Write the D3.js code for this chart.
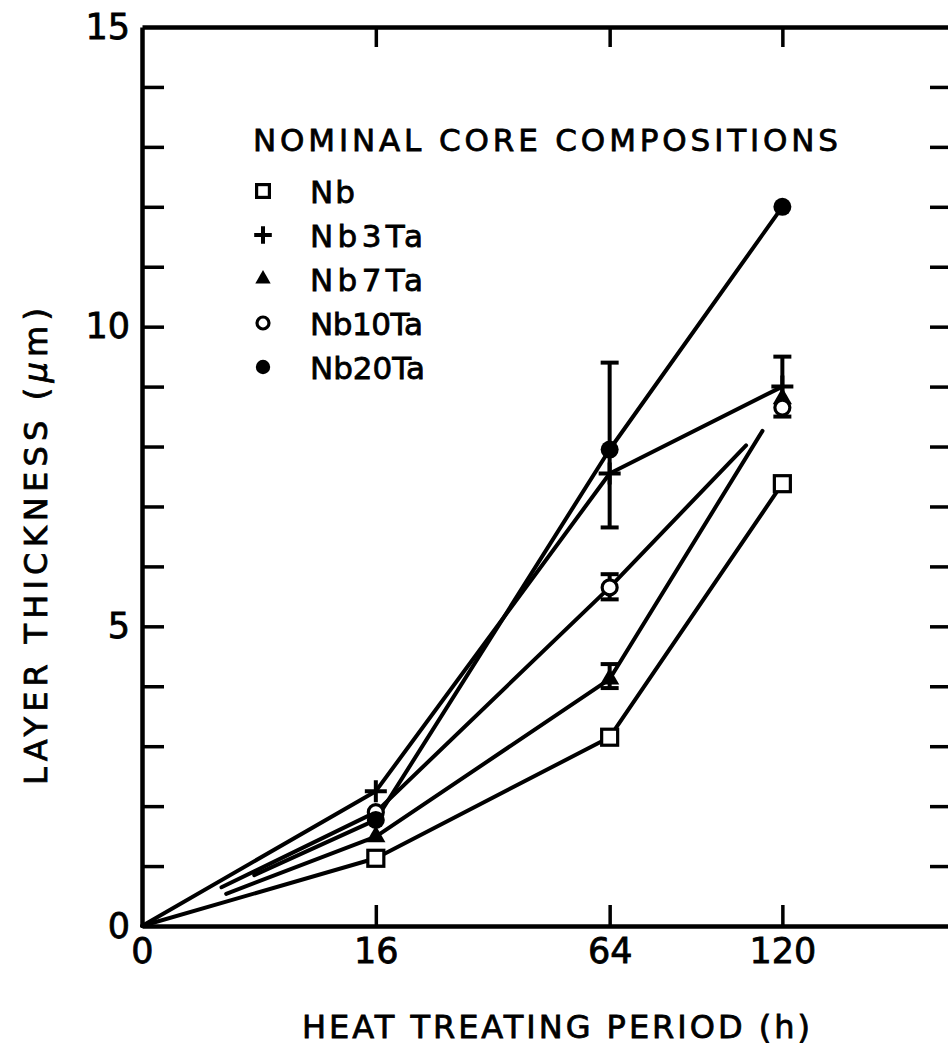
<!DOCTYPE html>
<html>
<head>
<meta charset="utf-8">
<script src="https://cdn.jsdelivr.net/npm/d3@7"></script>
<style>
  body { margin: 0; background: #fff; }
  svg { display: block; font-family: "DejaVu Sans", sans-serif; }
  svg text { stroke: #000; stroke-width: 0.8px; }
</style>
</head>
<body>
<div id="root"></div>
<script>
// heat treating periods (h)
const periods = [0, 16, 64, 120];
const seriesNames = ["Nb", "Nb3Ta", "Nb7Ta", "Nb10Ta", "Nb20Ta"];
const seriesSymbols = ["square", "plus", "triangle", "circle", "dot"];

// layer thickness (um) per series, at each period
const nbValues     = [0, 1.13, 3.15, 7.38];
const nb3TaValues  = [0, 2.25, 7.55, 9.0];
const nb7TaValues  = [0, 1.49, 4.12, 8.8];
const nb10TaValues = [0, 1.9, 5.65, 8.65];
const nb20TaValues = [0, 1.77, 7.95, 12.0];

// error bars: series, period, low, high
const errSeries = ["Nb20Ta", "Nb7Ta", "Nb10Ta", "Nb3Ta"];
const errPeriod = [64, 64, 64, 120];
const errLow    = [6.65, 3.97, 5.45, 8.5];
const errHigh   = [9.4, 4.37, 5.87, 9.5];

// ticks
const xTickValues = [16, 64, 120];
const xLabelValues = [0, 16, 64, 120];
const yLabelValues = [0, 5, 10, 15];
const yTickValues = d3.range(1, 15);

const seriesValues = [nbValues, nb3TaValues, nb7TaValues, nb10TaValues, nb20TaValues];

// the hand-drawn lines leave gaps: part of the first segment left blank, part of the last one
const firstSegSkip = [0, 0, 0.36, 0.34, 0.48];
const lastSegKeep  = [1, 1, 0.885, 0.79, 1];

const width = 948, height = 1048;
const plotLeft = 142, plotRight = 952, plotTop = 27, plotBottom = 926;

const svg = d3.select("#root").append("svg")
    .attr("width", width)
    .attr("height", height);

const x = d3.scaleSqrt().domain([0, 192]).range([plotLeft, plotRight]);
const y = d3.scaleLinear().domain([0, 15]).range([plotBottom, plotTop]);

function styleAxis(g) {
    g.selectAll(".domain").attr("stroke", "#000").attr("stroke-width", 4.5);
    g.selectAll(".tick line").attr("stroke", "#000").attr("stroke-width", 3.5);
    g.selectAll("text").attr("fill", "#000").attr("font-family", "DejaVu Sans").attr("font-size", 35);
}

// frame with inward ticks
svg.append("g").attr("transform", `translate(${plotLeft},0)`)
    .call(d3.axisLeft(y).tickValues(yTickValues).tickSize(-22).tickSizeOuter(0).tickFormat(""))
    .call(styleAxis);
svg.append("g").attr("transform", `translate(${plotRight},0)`)
    .call(d3.axisRight(y).tickValues(yTickValues).tickSize(-22).tickSizeOuter(0).tickFormat(""))
    .call(styleAxis);
svg.append("g").attr("transform", `translate(0,${plotTop})`)
    .call(d3.axisTop(x).tickValues(xTickValues).tickSize(-20).tickSizeOuter(0).tickFormat(""))
    .call(styleAxis);
svg.append("g").attr("transform", `translate(0,${plotBottom})`)
    .call(d3.axisBottom(x).tickValues(xTickValues).tickSize(-21).tickSizeOuter(0).tickFormat(""))
    .call(styleAxis);

// tick labels
const yLab = svg.append("g").attr("transform", `translate(${plotLeft},0)`)
    .call(d3.axisLeft(y).tickValues(yLabelValues).tickSize(0).tickPadding(12))
    .call(styleAxis);
yLab.select(".domain").remove();
const xLab = svg.append("g").attr("transform", `translate(0,${plotBottom})`)
    .call(d3.axisBottom(x).tickValues(xLabelValues).tickSize(0).tickPadding(12))
    .call(styleAxis);
xLab.select(".domain").remove();

// axis titles
svg.append("text")
    .attr("x", 302).attr("y", 1038)
    .attr("font-size", 32)
    .attr("textLength", 508).attr("lengthAdjust", "spacing")
    .text("HEAT TREATING PERIOD (h)");

const yTitle = svg.append("text")
    .attr("transform", "translate(47,785) rotate(-90)")
    .attr("font-size", 32)
    .attr("textLength", 477).attr("lengthAdjust", "spacing");
yTitle.append("tspan").text("LAYER THICKNESS (");
yTitle.append("tspan").attr("font-style", "italic").text("\u03bc");
yTitle.append("tspan").text("m)");

// lines
const lines = svg.append("g").attr("fill", "none").attr("stroke", "#000")
    .attr("stroke-width", 4).attr("stroke-linecap", "round");

seriesValues.forEach(function(vals, s) {
    for (let i = 0; i < periods.length - 1; i++) {
        let x0 = x(periods[i]), y0 = y(vals[i]);
        let x1 = x(periods[i + 1]), y1 = y(vals[i + 1]);
        let t0 = i === 0 ? firstSegSkip[s] : 0;
        let t1 = i === periods.length - 2 ? lastSegKeep[s] : 1;
        lines.append("line")
            .attr("x1", x0 + (x1 - x0) * t0).attr("y1", y0 + (y1 - y0) * t0)
            .attr("x2", x0 + (x1 - x0) * t1).attr("y2", y0 + (y1 - y0) * t1);
    }
});

// error bars
const errs = svg.append("g").attr("stroke", "#000").attr("stroke-width", 4);
errSeries.forEach(function(name, i) {
    const cx = x(errPeriod[i]);
    errs.append("line").attr("x1", cx).attr("x2", cx).attr("y1", y(errLow[i])).attr("y2", y(errHigh[i]));
    [errLow[i], errHigh[i]].forEach(function(v) {
        errs.append("line").attr("x1", cx - 9).attr("x2", cx + 9).attr("y1", y(v)).attr("y2", y(v));
    });
});

// markers
function drawMarker(g, kind, cx, cy, k) {
    if (kind === "square") {
        g.append("rect").attr("x", cx - 8 * k).attr("y", cy - 8 * k)
            .attr("width", 16 * k).attr("height", 16 * k)
            .attr("fill", "#fff").attr("stroke", "#000").attr("stroke-width", 3.2);
    } else if (kind === "plus") {
        g.append("path").attr("d", `M${cx - 11 * k},${cy}H${cx + 11 * k}M${cx},${cy - 11 * k}V${cy + 11 * k}`)
            .attr("stroke", "#000").attr("stroke-width", 4);
    } else if (kind === "triangle") {
        g.append("path")
            .attr("d", d3.symbol().type(d3.symbolTriangle).size(160 * k * k)())
            .attr("transform", `translate(${cx},${cy})`)
            .attr("fill", "#000");
    } else if (kind === "circle") {
        g.append("circle").attr("cx", cx).attr("cy", cy).attr("r", 7.5 * k)
            .attr("fill", "#fff").attr("stroke", "#000").attr("stroke-width", 3.2);
    } else {
        g.append("circle").attr("cx", cx).attr("cy", cy).attr("r", 9 * k).attr("fill", "#000");
    }
}

const marks = svg.append("g");
seriesValues.forEach(function(vals, s) {
    periods.forEach(function(p, i) {
        if (p === 0) return;
        drawMarker(marks, seriesSymbols[s], x(p), y(vals[i]), 1);
    });
});

// legend
const legend = svg.append("g");
legend.append("text")
    .attr("x", 253).attr("y", 151)
    .attr("font-size", 31)
    .attr("textLength", 585).attr("lengthAdjust", "spacing")
    .text("NOMINAL  CORE  COMPOSITIONS");

const legendWidths = [45, 113, 113, 113, 115];
seriesNames.forEach(function(name, i) {
    const base = 203 + i * 44;
    drawMarker(legend, seriesSymbols[i], 263, base - 12, 0.8);
    legend.append("text")
        .attr("x", 310).attr("y", base)
        .attr("font-size", 31)
        .attr("textLength", legendWidths[i]).attr("lengthAdjust", "spacing")
        .text(name);
});
</script>
</body>
</html>
